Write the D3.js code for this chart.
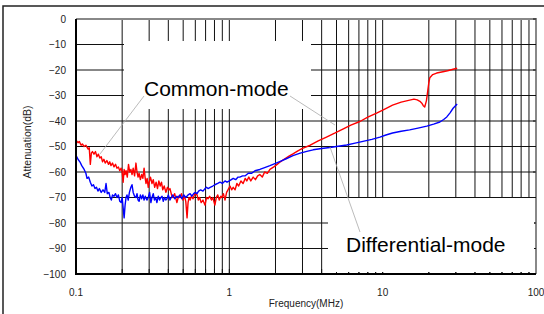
<!DOCTYPE html>
<html>
<head>
<meta charset="utf-8">
<script src="https://cdn.jsdelivr.net/npm/d3@7"></script>
<style>
  body { margin: 0; background: #fff; }
  svg { display: block; font-family: "Liberation Sans", Arial, sans-serif; }
</style>
</head>
<body>
<div id="chart"></div>
<script>
// data (frequency in MHz, attenuation in dB)
var commonFreq = [0.100,0.103,0.105,0.108,0.110,0.113,0.116,0.120,0.122,0.124,0.126,0.128,0.131,0.134,0.137,0.140,0.143,0.146,0.149,0.152,
  0.155,0.159,0.163,0.166,0.169,0.173,0.177,0.181,0.185,0.189,0.193,0.197,0.200,0.203,0.206,0.209,0.212,0.216,0.220,0.224,
  0.228,0.232,0.236,0.241,0.246,0.250,0.254,0.258,0.263,0.268,0.273,0.278,0.282,0.286,0.291,0.296,0.300,0.306,0.313,0.319,
  0.326,0.333,0.340,0.347,0.354,0.361,0.368,0.376,0.386,0.395,0.404,0.410,0.420,0.428,0.440,0.455,0.466,0.476,0.487,0.498,
  0.510,0.520,0.530,0.538,0.546,0.555,0.566,0.580,0.595,0.616,0.628,0.640,0.655,0.673,0.694,0.710,0.726,0.745,0.765,0.780,
  0.805,0.822,0.840,0.860,0.880,0.895,0.915,0.937,0.960,0.980,1.01,1.035,1.06,1.09,1.12,1.15,1.19,1.23,1.27,1.30,
  1.34,1.38,1.43,1.48,1.53,1.58,1.64,1.70,1.77,1.84,1.95,2.05,2.15,2.3,2.45,2.6,2.8,3.0,3.37,3.8,4.3,4.9,
  5.5,6.2,7.1,8.0,9.2,10.4,11.6,13.2,15.0,16.0,16.8,17.5,18.0,18.4,18.8,19.3,19.7,20.0,20.3,21.2,
  22.5,24.7,26.5,28.8,30.6];
var commonDb = [-47.5,-48.5,-48,-49.5,-49,-50,-49.5,-51,-50.5,-57,-52.5,-52,-53,-52,-54,-53,-54.5,-54,-56,-55,
  -56.5,-55.5,-57,-56,-57.5,-56.5,-58,-57,-58.5,-58,-59.5,-58.5,-60,-64,-59,-61,-59.5,-62,-57,-60,
  -59,-61,-58.5,-61.5,-56.5,-60,-62,-60.5,-63,-61,-62.5,-58.5,-62,-64.5,-62.5,-66,-64,-62,-64.5,-63,
  -66,-64,-66.5,-63.5,-65.5,-64,-67,-65.5,-68,-66,-67,-66.5,-69,-70,-68.5,-72,-69.5,-70,-68.5,-71,
  -69.5,-71.5,-78,-72,-70,-71,-69.5,-70.5,-68.5,-69,-71,-70,-72,-71,-73,-70,-70.5,-69.5,-71,-70,
  -73,-70,-69,-71,-69.5,-70,-68.5,-71,-68,-67,-65.5,-67,-66,-67,-64.5,-65.5,-63.5,-64.5,-62.5,-63.5,
  -62,-63.5,-62,-63,-61.5,-61,-62,-60,-60.5,-59,-58,-57,-56,-54.8,-53.8,-52.9,-51.7,-50.7,-49.5,-47.8,-46.3,-44.7,
  -43.2,-41.6,-40.2,-38.5,-36.8,-35.2,-33.8,-32.6,-31.8,-31.4,-31.7,-32.3,-33,-34,-34.5,-32,-28,-25,-23,-21.8,
  -21.2,-20.7,-20.3,-19.7,-19.3];

var diffFreq = [0.100,0.103,0.106,0.109,0.113,0.116,0.118,0.121,0.124,0.127,0.130,0.133,0.136,0.139,0.142,0.146,0.150,0.154,0.157,0.160,
  0.164,0.167,0.170,0.173,0.177,0.181,0.185,0.189,0.193,0.197,0.200,0.203,0.206,0.209,0.212,0.215,0.219,0.223,0.228,0.232,
  0.236,0.241,0.246,0.250,0.254,0.258,0.263,0.268,0.273,0.278,0.283,0.290,0.296,0.302,0.308,0.313,0.319,0.325,0.331,0.337,
  0.344,0.351,0.358,0.364,0.371,0.378,0.385,0.392,0.400,0.410,0.418,0.428,0.440,0.455,0.466,0.476,0.490,0.505,0.520,0.538,
  0.555,0.570,0.585,0.600,0.616,0.630,0.650,0.673,0.694,0.710,0.726,0.750,0.780,0.805,0.840,0.870,0.900,0.937,0.966,1.00,
  1.03,1.06,1.10,1.14,1.17,1.22,1.27,1.33,1.40,1.47,1.58,1.70,1.84,2.0,2.15,2.35,2.6,2.9,3.2,3.52,
  4.0,4.52,5.0,5.83,6.5,7.44,8.5,9.6,10.5,11.6,13.2,15.0,17.0,19.4,21.5,23.6,25.0,26.2,27.5,28.8,
  30.6];
var diffDb = [-53.5,-55,-56,-57.5,-59,-60.5,-62.5,-62,-64,-65.5,-65,-66.5,-66,-67.5,-66.5,-68,-67,-68,-64.5,-68.5,
  -68,-70,-71,-69,-69.5,-68.5,-70,-69,-71.5,-72,-70,-74,-78,-73,-70,-69,-71,-68,-66,-65,
  -68,-69.5,-70,-68.5,-71,-71.5,-69,-70.5,-69,-71,-69.5,-71,-70,-68,-72,-70,-68.5,-71,-70,-72,
  -69.5,-71,-70,-69.5,-71.5,-70,-71,-70.5,-69,-71,-70,-69,-70.5,-69.5,-70,-69,-70.5,-69,-70,-69,
  -68.5,-69.5,-68.5,-68,-68.5,-67.5,-67,-67.5,-66.5,-66,-66.5,-66,-65.5,-65,-64.5,-64,-64.5,-63.5,-64,-63.5,
  -63,-62.5,-63,-62,-62,-61.5,-61.5,-60.5,-60.5,-59.5,-59,-58.3,-57.5,-56.6,-55.8,-54.8,-53.6,-52.6,-51.9,-51.3,
  -50.8,-50.4,-50,-49.4,-48.8,-48,-47.2,-46.3,-45.5,-44.7,-44,-43.5,-42.8,-42,-41.2,-40.4,-39.4,-38.4,-36.8,-35,
  -33.3];

var yTicks = [0, -10, -20, -30, -40, -50, -60, -70, -80, -90, -100];
var xTickLabels = [0.1, 1, 10, 100];

var svgWidth = 544;
var svgHeight = 314;

var margin = { top: 19, right: 8, bottom: 40, left: 76 };
var width = 460;
var height = 255;

var svg = d3.select("#chart")
  .append("svg")
  .attr("width", svgWidth)
  .attr("height", svgHeight);

// outer frame (runs off the right and bottom edges)
svg.append("rect")
  .attr("x", 3).attr("y", 6)
  .attr("width", 600).attr("height", 400)
  .attr("fill", "none")
  .attr("stroke", "#222")
  .attr("stroke-width", 1.5);

var chartGroup = svg.append("g")
  .attr("transform", `translate(${margin.left}, ${margin.top})`);

var xScale = d3.scaleLog().domain([0.1, 100]).range([0, width]);
var yScale = d3.scaleLinear().domain([-100, 0]).range([height, 0]);

// minor + major vertical grid: 0.2..0.9, 1..9, 10..90
var gridFreqs = [];
[0.1, 1, 10].forEach(function(dec) {
  for (var k = 1; k <= 9; k++) gridFreqs.push(dec * k);
});
gridFreqs = gridFreqs.filter(d => d > 0.1);

chartGroup.selectAll(".vgrid")
  .data(gridFreqs)
  .enter()
  .append("line")
  .attr("x1", d => xScale(d)).attr("x2", d => xScale(d))
  .attr("y1", 0).attr("y2", height)
  .attr("stroke", "#111")
  .attr("stroke-width", 1);

chartGroup.selectAll(".hgrid")
  .data(yTicks.filter(d => d > -100 && d < 0))
  .enter()
  .append("line")
  .attr("x1", 0).attr("x2", width)
  .attr("y1", d => yScale(d)).attr("y2", d => yScale(d))
  .attr("stroke", "#111")
  .attr("stroke-width", 1);

// top and right frame of the plot are gray
chartGroup.append("path")
  .attr("d", `M0,0H${width}V${height}`)
  .attr("fill", "none")
  .attr("stroke", "#888")
  .attr("stroke-width", 2);

// curves
var line = d3.line()
  .x(d => xScale(d[0]))
  .y(d => yScale(d[1]));

chartGroup.append("path")
  .datum(commonFreq.map((f, i) => [f, commonDb[i]]))
  .attr("d", line)
  .attr("fill", "none")
  .attr("stroke", "#ff0000")
  .attr("stroke-width", 1.4)
  .attr("stroke-linejoin", "round");

chartGroup.append("path")
  .datum(diffFreq.map((f, i) => [f, diffDb[i]]))
  .attr("d", line)
  .attr("fill", "none")
  .attr("stroke", "#0000ff")
  .attr("stroke-width", 1.4)
  .attr("stroke-linejoin", "round");

// white label boxes that cover the grid
svg.append("rect")
  .attr("x", 124).attr("y", 41).attr("width", 187).attr("height", 68)
  .attr("fill", "#fff");
svg.append("rect")
  .attr("x", 328).attr("y", 198).attr("width", 206).attr("height", 74)
  .attr("fill", "#fff");

// tick stubs on bottom and right edge
chartGroup.selectAll(".xtick")
  .data(gridFreqs)
  .enter()
  .append("line")
  .attr("x1", d => xScale(d)).attr("x2", d => xScale(d))
  .attr("y1", height).attr("y2", height - 5)
  .attr("stroke", "#111");

chartGroup.selectAll(".ytick")
  .data(yTicks)
  .enter()
  .append("line")
  .attr("x1", width - 3).attr("x2", width)
  .attr("y1", d => yScale(d)).attr("y2", d => yScale(d))
  .attr("stroke", "#111");

// left and bottom axis lines
chartGroup.append("path")
  .attr("d", `M0,0V${height}H${width}`)
  .attr("fill", "none")
  .attr("stroke", "#000")
  .attr("stroke-width", 2);

// leader lines
var leaders = [
  [144, 96, 100, 154],
  [290, 96, 335, 125],
  [330, 147, 360, 232]
];
svg.selectAll(".leader")
  .data(leaders)
  .enter()
  .append("line")
  .attr("x1", d => d[0]).attr("y1", d => d[1])
  .attr("x2", d => d[2]).attr("y2", d => d[3])
  .attr("stroke", "#aaa")
  .attr("stroke-width", 0.8);

svg.append("text")
  .attr("x", 144).attr("y", 96)
  .attr("font-size", 21)
  .attr("fill", "#000")
  .text("Common-mode");

svg.append("text")
  .attr("x", 346).attr("y", 252)
  .attr("font-size", 21)
  .attr("fill", "#000")
  .text("Differential-mode");

// tick labels
chartGroup.selectAll(".ylabel")
  .data(yTicks)
  .enter()
  .append("text")
  .attr("x", -10)
  .attr("y", d => yScale(d))
  .attr("dy", "0.35em")
  .attr("text-anchor", "end")
  .attr("font-size", 10)
  .attr("fill", "#222")
  .text(d => d === 0 ? "0" : "\u2212" + Math.abs(d));

chartGroup.selectAll(".xlabel")
  .data(xTickLabels)
  .enter()
  .append("text")
  .attr("x", d => xScale(d))
  .attr("y", height + 22)
  .attr("text-anchor", "middle")
  .attr("font-size", 10)
  .attr("fill", "#222")
  .text(d => d);

// axis titles
svg.append("text")
  .attr("x", 306).attr("y", 307)
  .attr("text-anchor", "middle")
  .attr("font-size", 10)
  .attr("fill", "#222")
  .text("Frequency(MHz)");

svg.append("text")
  .attr("transform", "translate(31, 142) rotate(-90)")
  .attr("text-anchor", "middle")
  .attr("font-size", 10.5)
  .attr("fill", "#222")
  .text("Attenuation(dB)");
</script>
</body>
</html>
